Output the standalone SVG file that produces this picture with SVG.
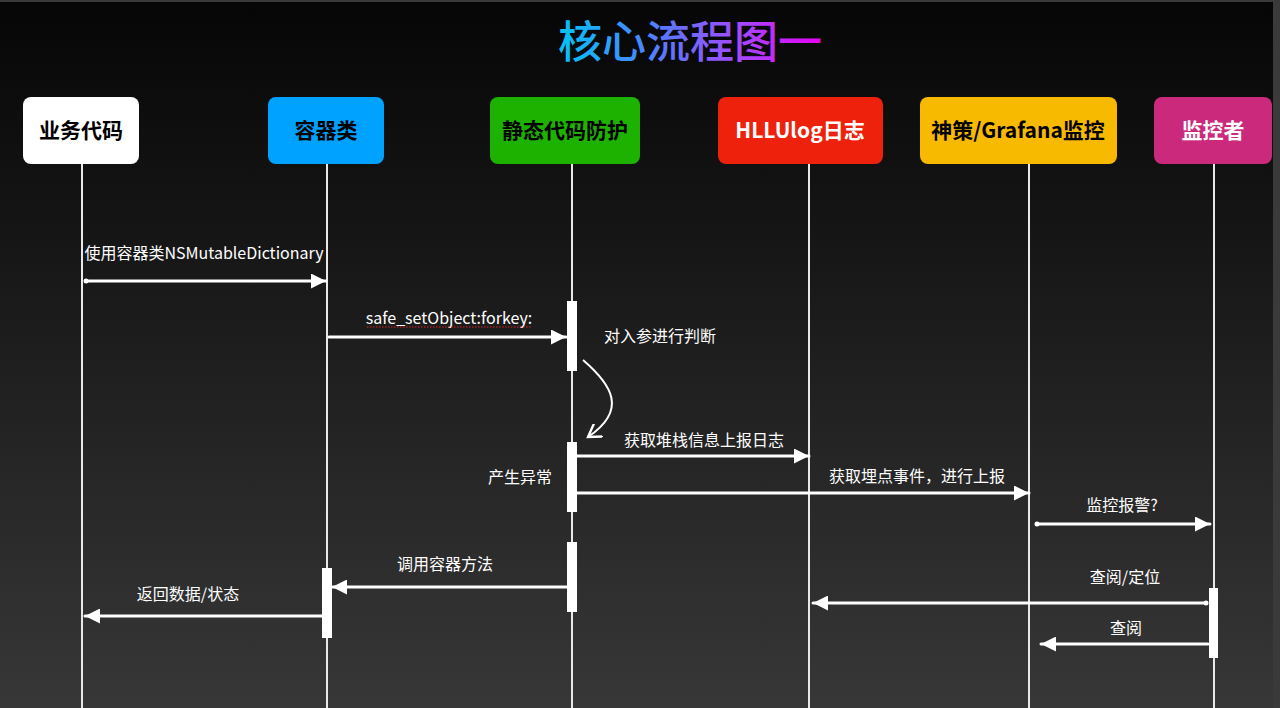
<svg xmlns="http://www.w3.org/2000/svg" width="1280" height="708" viewBox="0 0 1280 708">
<defs>
<linearGradient id="bg" x1="0" y1="0" x2="0" y2="1">
<stop offset="0" stop-color="#060606"/>
<stop offset="0.3" stop-color="#141414"/>
<stop offset="1" stop-color="#373737"/>
</linearGradient>
<linearGradient id="tg" x1="557" y1="0" x2="823" y2="0" gradientUnits="userSpaceOnUse">
<stop offset="0" stop-color="#00c4f5"/>
<stop offset="0.4" stop-color="#5a78ff"/>
<stop offset="0.7" stop-color="#a846ff"/>
<stop offset="1" stop-color="#e800f0"/>
</linearGradient>
<marker id="ah" viewBox="0 0 10 10" refX="10" refY="5" markerWidth="5" markerHeight="5" markerUnits="strokeWidth" orient="auto-start-reverse">
<path d="M0,0 L10,5 L0,10 Z" fill="#ffffff"/>
</marker>
<marker id="oa" viewBox="0 0 10 10" refX="8" refY="5" markerWidth="8" markerHeight="8" markerUnits="strokeWidth" orient="auto">
<path d="M0,0 L8,5 L0,10" fill="none" stroke="#ffffff" stroke-width="1.5"/>
</marker>
</defs>
<style>
.node text{font-family:"Noto Sans CJK SC","Noto Sans",sans-serif;font-size:21px;font-weight:700;text-anchor:middle}
.life{stroke:#e8e8e8;stroke-width:2;fill:none}
.msg{stroke:#ffffff;stroke-width:3;fill:none;stroke-linecap:round}
.act{fill:#ffffff}
.lbl{font-family:"Noto Sans CJK SC","Noto Sans",sans-serif;font-size:16px;fill:#ffffff}
.c{text-anchor:middle}
</style>
<rect width="1280" height="708" fill="url(#bg)"/>
<rect x="0" y="0" width="1280" height="2" fill="#3a3a3a"/>
<rect x="1273" y="0" width="7" height="708" fill="#3a3a3a"/>

<text x="690" y="58" text-anchor="middle" font-family="'Noto Sans CJK SC',sans-serif" font-size="44" font-weight="500" fill="url(#tg)">核心流程图一</text>

<g id="lifelines">
<line class="life" x1="82" y1="164" x2="82" y2="708"/>
<line class="life" x1="327" y1="164" x2="327" y2="708"/>
<line class="life" x1="572" y1="164" x2="572" y2="708"/>
<line class="life" x1="809" y1="164" x2="809" y2="708"/>
<line class="life" x1="1029" y1="164" x2="1029" y2="708"/>
<line class="life" x1="1214" y1="164" x2="1214" y2="708"/>
</g>

<g id="n-biz" class="node"><rect x="23" y="97" width="116" height="67" rx="8" fill="#ffffff"/><text x="81" y="138" fill="#000000">业务代码</text></g>
<g id="n-container" class="node"><rect x="268" y="97" width="116" height="67" rx="8" fill="#00a2ff"/><text x="326" y="138" fill="#000000">容器类</text></g>
<g id="n-static" class="node"><rect x="490" y="97" width="150" height="67" rx="8" fill="#1db100"/><text x="565" y="138" fill="#000000">静态代码防护</text></g>
<g id="n-hllu" class="node"><rect x="718" y="97" width="165" height="67" rx="8" fill="#ee220c"/><text x="800" y="138" fill="#ffffff">HLLUlog日志</text></g>
<g id="n-grafana" class="node"><rect x="920" y="97" width="197" height="67" rx="8" fill="#f8ba00"/><text x="1018" y="138" fill="#000000">神策/Grafana监控</text></g>
<g id="n-monitor" class="node"><rect x="1154" y="97" width="118" height="67" rx="8" fill="#cb297b"/><text x="1213" y="138" fill="#ffffff">监控者</text></g>

<g id="activations">
<rect class="act" x="567" y="301" width="10" height="70"/>
<rect class="act" x="567" y="442" width="10" height="70"/>
<rect class="act" x="567" y="542" width="10" height="70"/>
<rect class="act" x="322" y="568" width="10" height="70"/>
<rect class="act" x="1209" y="588" width="9" height="70"/>
</g>

<g id="connectors">
<circle cx="86" cy="281" r="2.5" fill="#fff"/>
<line class="msg" x1="86" y1="281" x2="326" y2="281" marker-end="url(#ah)"/>
<line class="msg" x1="329" y1="337" x2="566" y2="337" marker-end="url(#ah)"/>
<path d="M583,360 C612,385 628,410 588,437" stroke="#ffffff" stroke-width="2" fill="none" marker-end="url(#oa)"/>
<line class="msg" x1="577" y1="456" x2="809" y2="456" marker-end="url(#ah)"/>
<line class="msg" x1="577" y1="493" x2="1029" y2="493" marker-end="url(#ah)"/>
<circle cx="1037" cy="524" r="2.5" fill="#fff"/>
<line class="msg" x1="1037" y1="524" x2="1210" y2="524" marker-end="url(#ah)"/>
<line class="msg" x1="567" y1="587" x2="332" y2="587" marker-end="url(#ah)"/>
<line class="msg" x1="322" y1="616" x2="85" y2="616" marker-end="url(#ah)"/>
<circle cx="1206" cy="603" r="2.5" fill="#fff"/>
<line class="msg" x1="1206" y1="603" x2="813" y2="603" marker-end="url(#ah)"/>
<line class="msg" x1="1208" y1="644" x2="1041" y2="644" marker-end="url(#ah)"/>
</g>

<g id="labels">
<text class="lbl c" x="204" y="259">使用容器类NSMutableDictionary</text>
<text class="lbl c" x="449" y="324">safe_setObject:forkey:</text>
<line x1="367" y1="327" x2="531" y2="327" stroke="#e02020" stroke-width="1" stroke-dasharray="1.5,1.5"/>
<text class="lbl" x="604" y="342">对入参进行判断</text>
<text class="lbl c" x="704" y="446">获取堆栈信息上报日志</text>
<text class="lbl c" x="520" y="483">产生异常</text>
<text class="lbl c" x="917" y="482">获取埋点事件，进行上报</text>
<text class="lbl c" x="1122" y="511">监控报警?</text>
<text class="lbl c" x="445" y="570">调用容器方法</text>
<text class="lbl c" x="188" y="600">返回数据/状态</text>
<text class="lbl c" x="1125" y="583">查阅/定位</text>
<text class="lbl c" x="1126" y="634">查阅</text>
</g>
</svg>
